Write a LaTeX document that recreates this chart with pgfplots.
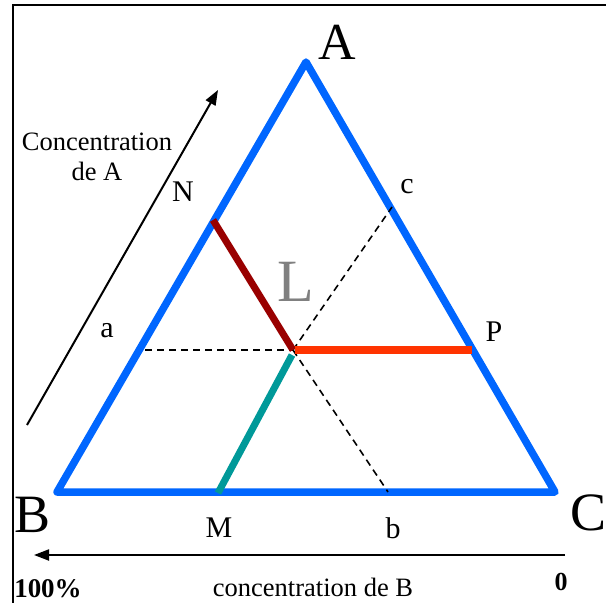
\documentclass[border=0pt]{standalone}
\usepackage{pgfplots}
\pgfplotsset{compat=1.18}
\usepackage{fontspec}
\setmainfont{Liberation Serif}
\usetikzlibrary{arrows.meta}
\definecolor{triblue}{RGB}{0,102,255}
\definecolor{dred}{RGB}{153,0,0}
\definecolor{ored}{RGB}{255,51,0}
\definecolor{teal2}{RGB}{0,153,153}
\begin{document}
\begin{tikzpicture}
\begin{axis}[scale only axis, width=606pt, height=603pt,
  xmin=0, xmax=606, ymin=0, ymax=603, hide axis, clip=false,
  y dir=reverse]
\path[use as bounding box] (axis cs:0,0) rectangle (axis cs:606,603);
% frame
\draw[black, line width=2pt] (axis cs:13,603) -- (axis cs:13,5) -- (axis cs:606,5);
% triangle
\addplot[triblue, line width=7.5pt, line join=round, line cap=round] coordinates {(57,492) (306,62) (555,492) (57,492)};
% dashed lines
\addplot[black, dash pattern=on 7pt off 5pt, line width=1.6pt] coordinates {(145,350) (293,350)};
\addplot[black, dash pattern=on 7pt off 5pt, line width=1.6pt] coordinates {(293,350) (392,207)};
\addplot[black, dash pattern=on 7pt off 5pt, line width=1.6pt] coordinates {(293,350) (388,492)};
% coloured lines
\addplot[dred, line width=7pt] coordinates {(213,220) (293,350)};
\addplot[ored, line width=7.5pt] coordinates {(295,350) (472,350)};
\addplot[teal2, line width=7pt] coordinates {(218,493) (292,355)};
% arrows
\addplot[black, line width=2pt, -{Triangle[length=15pt,width=11pt]}] coordinates {(27,425) (218,90)};
\addplot[black, line width=2pt, -{Triangle[length=15pt,width=11pt]}] coordinates {(565,555) (34,555)};
% labels
\node[font=\fontsize{52}{52}\selectfont] at (axis cs:337,42) {A};
\node[font=\fontsize{54}{54}\selectfont] at (axis cs:33,515) {B};
\node[font=\fontsize{54}{54}\selectfont] at (axis cs:589,513) {C};
\node[font=\fontsize{60}{60}\selectfont, text=gray] at (axis cs:296,282) {L};
\node[font=\fontsize{30}{30}\selectfont] at (axis cs:219,528) {M};
\node[font=\fontsize{30}{30}\selectfont] at (axis cs:393,528) {b};
\node[font=\fontsize{30}{30}\selectfont] at (axis cs:107,331) {a};
\node[font=\fontsize{30}{30}\selectfont] at (axis cs:183,192) {N};
\node[font=\fontsize{30}{30}\selectfont] at (axis cs:407,187) {c};
\node[font=\fontsize{30}{30}\selectfont] at (axis cs:494,332) {P};
\node[font=\fontsize{26.5}{30}\selectfont, align=center] at (axis cs:97,157) {Concentration\\de A};
\node[font=\fontsize{26.5}{26.5}\selectfont] at (axis cs:313,587) {concentration de B};
\node[font=\fontsize{27}{27}\selectfont\bfseries] at (axis cs:48,589) {100\%};
\node[font=\fontsize{26}{26}\selectfont\bfseries] at (axis cs:561,582) {0};
\end{axis}
\end{tikzpicture}
\end{document}
